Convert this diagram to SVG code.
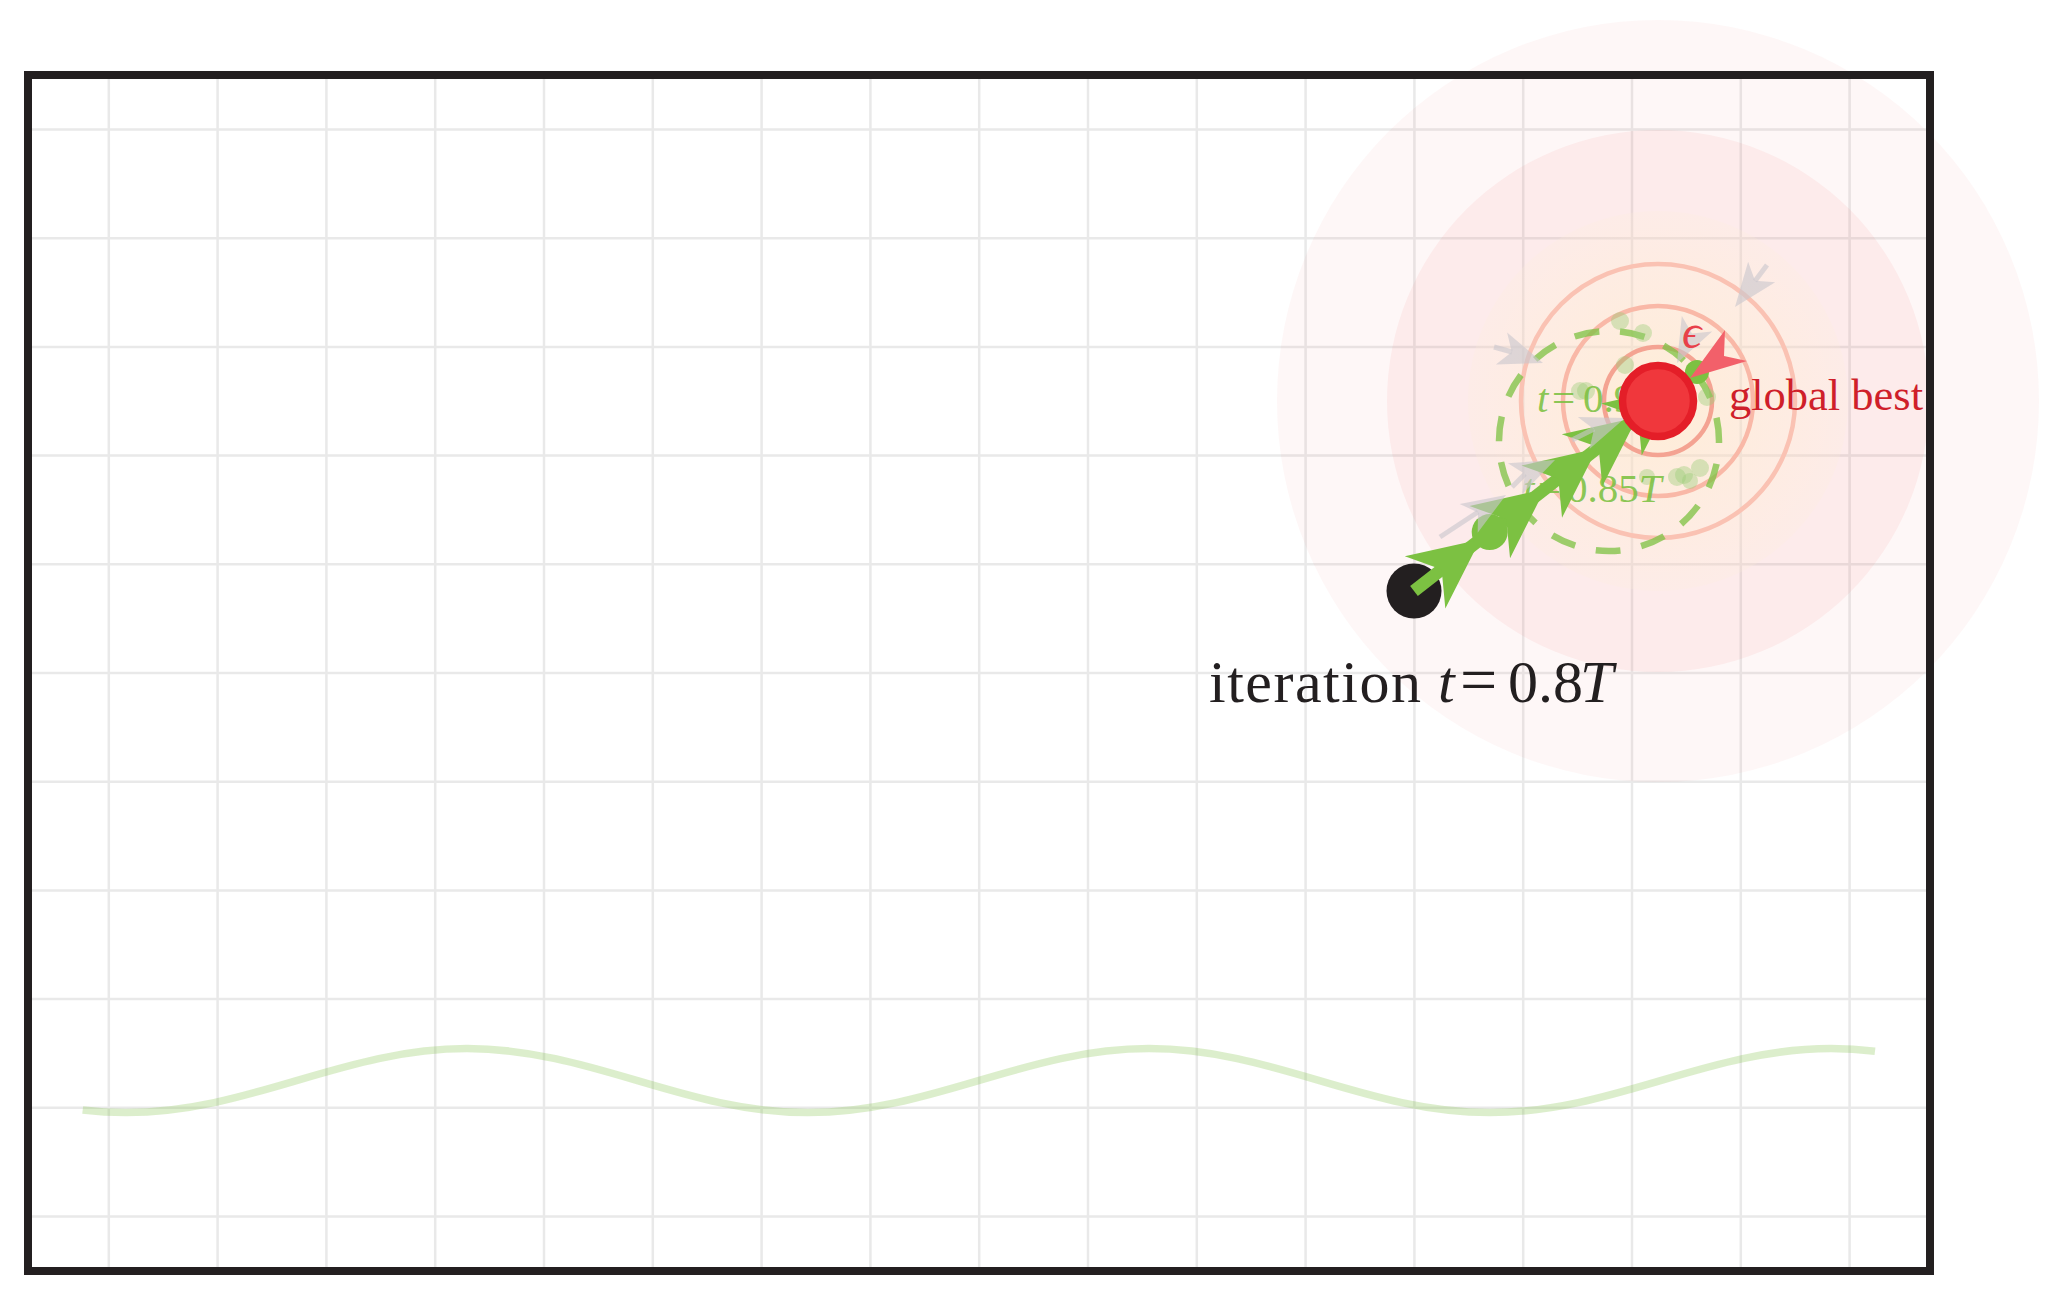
<svg xmlns="http://www.w3.org/2000/svg" xmlns:xlink="http://www.w3.org/1999/xlink" width="2068" height="1295" viewBox="0 0 2068 1295">
<style>
.grid{stroke:#e9e9e9;stroke-width:2.5;fill:none}
.ring{fill:none;stroke-width:4.5}
.gArr{fill:#7cc142}
.grey{fill:#c9c7cd;fill-opacity:0.62}
.greyS{stroke:#c9c7cd;stroke-opacity:0.62;stroke-width:5;fill:none}
.part{fill:#9ccc78;fill-opacity:0.4}
.lbl{font-family:"Liberation Serif","DejaVu Serif",serif}
</style>
<defs>
<path id="gh" d="M0,0 L-70,-33 L-49,0 L-70,33 Z"/>
<path id="gr" d="M0,0 L-44,-17 L-33,0 L-44,17 Z"/>
<radialGradient id="glow" cx="1658" cy="401" r="190" gradientUnits="userSpaceOnUse">
<stop offset="0" stop-color="#ffeec8" stop-opacity="0.6"/>
<stop offset="0.7" stop-color="#ffeed2" stop-opacity="0.35"/>
<stop offset="1" stop-color="#ffeed8" stop-opacity="0.2"/>
</radialGradient>
</defs>
<rect width="2068" height="1295" fill="#ffffff"/>
<g id="grid" class="grid">
<path d="M108.8,79V1267M217.6,79V1267M326.4,79V1267M435.2,79V1267M544,79V1267M652.8,79V1267M761.6,79V1267M870.4,79V1267M979.2,79V1267M1088,79V1267M1196.8,79V1267M1305.6,79V1267M1414.4,79V1267M1523.2,79V1267M1632,79V1267M1740.8,79V1267M1849.6,79V1267"/>
<path d="M32,129.5H1926M32,238.2H1926M32,346.9H1926M32,455.6H1926M32,564.3H1926M32,673H1926M32,781.7H1926M32,890.4H1926M32,999.1H1926M32,1107.8H1926M32,1216.5H1926"/>
</g>
<g id="wave">
<path d="M82.7,1110 Q104,1112.6 126,1112.6 C250.1,1112.6 342.9,1048.6 467,1048.6 C591.1,1048.6 683.9,1112.6 808,1112.6 C932.1,1112.6 1024.9,1048.6 1149,1048.6 C1273.1,1048.6 1365.9,1112.6 1490,1112.6 C1614.1,1112.6 1706.9,1048.6 1831,1048.6 Q1853,1048.6 1875,1051.2" fill="none" stroke="#7cc142" stroke-opacity="0.27" stroke-width="7.5"/>
</g>
<g id="halo">
<circle cx="1658" cy="401" r="381" fill="rgb(235,90,80)" fill-opacity="0.048"/>
<circle cx="1658" cy="401" r="271" fill="rgb(235,90,80)" fill-opacity="0.07"/>
<circle cx="1658" cy="401" r="190" fill="url(#glow)"/>
</g>
<g id="rings">
<circle class="ring" cx="1658" cy="401" r="137" stroke="#fac2b3"/>
<circle class="ring" cx="1658" cy="401" r="95" stroke="#f9b8a7"/>
<circle class="ring" cx="1658" cy="401" r="54" stroke="#f4a392"/>
</g>
<g id="swarm-radius">
<circle cx="1609" cy="441" r="110" fill="none" stroke="#7cc142" stroke-opacity="0.75" stroke-width="6.5" stroke-dasharray="25 21" stroke-dashoffset="23"/>
</g>
<g id="particles">
<circle class="part" cx="1620" cy="321" r="9"/>
<circle class="part" cx="1643" cy="333" r="9"/>
<circle class="part" cx="1625" cy="365" r="9"/>
<circle class="part" cx="1580" cy="391" r="9"/>
<circle class="part" cx="1586" cy="391" r="9"/>
<circle class="part" cx="1707" cy="397" r="9"/>
<circle class="part" cx="1700" cy="468" r="9"/>
<circle class="part" cx="1684" cy="475" r="9"/>
<circle class="part" cx="1677" cy="477" r="9"/>
<circle class="part" cx="1690" cy="481" r="8"/>
<circle class="part" cx="1647" cy="477" r="8"/>
</g>
<g id="labels-green" class="lbl" fill="#7cc142" fill-opacity="0.9" font-size="41">
<text y="412"><tspan x="1537" font-style="italic">t</tspan><tspan x="1552">=</tspan><tspan x="1583">0.9</tspan><tspan font-style="italic">T</tspan></text>
<text y="502"><tspan x="1523" font-style="italic">t</tspan><tspan x="1538">=</tspan><tspan x="1567">0.85</tspan><tspan font-style="italic">T</tspan></text>
</g>
<g id="start-node">
<circle cx="1414" cy="591" r="27.5" fill="#231f20"/>
</g>
<g id="connectors">
<line x1="1414" y1="591" x2="1658" y2="401" stroke="#7cc142" stroke-width="12.5"/>
<use href="#gh" class="gArr" transform="translate(1480.3,539.4) rotate(-37.9)"/>
<use href="#gh" class="gArr" transform="translate(1545,489.1) rotate(-37.9)"/>
<use href="#gh" class="gArr" transform="translate(1597,448.6) rotate(-37.9)"/>
<use href="#gh" class="gArr" transform="translate(1637.3,417.2) rotate(-37.9)"/>
<use href="#gh" class="gArr" transform="translate(1676.7,386.5) rotate(-37.9)"/>
<circle cx="1489.7" cy="532.1" r="18" fill="#7cc142"/>
<circle cx="1697" cy="372" r="12" fill="#7cc142"/>
<line class="greyS" x1="1440" y1="537" x2="1478" y2="512"/>
<use href="#gr" class="grey" transform="translate(1506,495) rotate(-32)"/>
<line class="greyS" x1="1512" y1="487" x2="1525" y2="474"/>
<use href="#gr" class="grey" transform="translate(1555,460) rotate(-25)"/>
<line class="greyS" x1="1572" y1="440" x2="1594" y2="429"/>
<use href="#gr" class="grey" transform="translate(1625,418) rotate(-20)"/>
<line class="greyS" x1="1494" y1="347" x2="1512" y2="352"/>
<use href="#gr" class="grey" transform="translate(1543,363) rotate(19.3)"/>
<use href="#gr" class="grey" transform="translate(1677,363) rotate(117)"/>
<line class="greyS" x1="1767" y1="265" x2="1755" y2="281"/>
<use href="#gr" class="grey" transform="translate(1735,307) rotate(127.3)"/>
</g>
<g id="global-best">
<circle cx="1658" cy="401" r="35.5" fill="#f0373c" stroke="#e41e28" stroke-width="7.5"/>
<path d="M1690,378 L1725,330 L1724,356 L1747,361 Z" fill="#f2606a"/>
<text class="lbl" x="1682" y="348" font-size="48" font-style="italic" fill="#e8404a">ϵ</text>
<text class="lbl" x="1729" y="410" font-size="44.5" fill="#cf1f2a">global best</text>
</g>
<g id="iteration-label">
<text class="lbl" y="702" font-size="60" fill="#231f20"><tspan x="1209" letter-spacing="1.5">iteration</tspan><tspan x="1438" font-style="italic">t</tspan><tspan x="1460" font-size="66">=</tspan><tspan x="1508">0.8</tspan><tspan x="1580" font-style="italic">T</tspan></text>
</g>
<g id="frame">
<rect x="28" y="75" width="1902" height="1196" fill="none" stroke="#231f20" stroke-width="8"/>
</g>
</svg>
